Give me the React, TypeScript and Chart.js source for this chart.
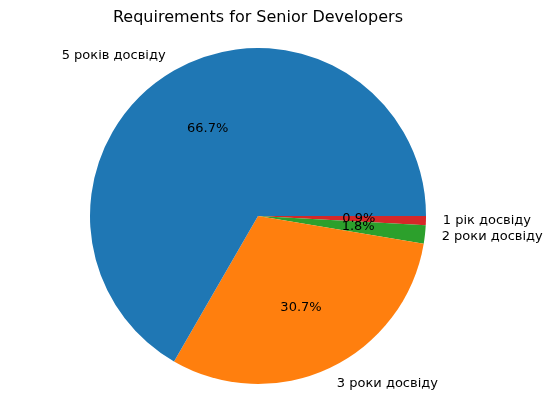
import React, { useEffect, useRef } from "react";
import { Chart, registerables } from "chart.js";
Chart.register(...registerables);

const labels = ["1 рік досвіду", "2 роки досвіду", "3 роки досвіду", "5 років досвіду"];
const counts = [1, 2, 35, 76];
const colors = ["#d62728", "#2ca02c", "#ff7f0e", "#1f77b4"];
const title = "Requirements for Senior Developers";

export default function App() {
  const ref = useRef<HTMLCanvasElement>(null);
  useEffect(() => {
    document.body.style.margin = "0";
    const total = counts.reduce((a, b) => a + b, 0);
    const plugin = {
      id: "mpl",
      afterDraw(chart: any) {
        const ctx = chart.ctx;
        const meta = chart.getDatasetMeta(0);
        ctx.save();
        ctx.fillStyle = "#000";
        ctx.font = "16px 'DejaVu Sans'";
        ctx.textAlign = "center";
        ctx.textBaseline = "middle";
        ctx.fillText(title, 258, 18);
        ctx.font = "13px 'DejaVu Sans'";
        meta.data.forEach((arc: any, i: number) => {
          const { x, y, startAngle, endAngle, outerRadius: r } = arc.getProps(["x", "y", "startAngle", "endAngle", "outerRadius"], true);
          const a = (startAngle + endAngle) / 2;
          const cx = Math.cos(a), cy = Math.sin(a);
          ctx.textAlign = cx >= 0 ? "left" : "right";
          ctx.fillText(labels[i], x + cx * r * 1.1, y + cy * r * 1.1);
          ctx.textAlign = "center";
          ctx.fillText(((counts[i] / total) * 100).toFixed(1) + "%", x + cx * r * 0.6, y + cy * r * 0.6);
        });
        ctx.restore();
      },
    };
    const chart = new Chart(ref.current!, {
      type: "pie",
      data: { labels, datasets: [{ data: counts, backgroundColor: colors, borderWidth: 0 }] },
      options: {
        animation: false,
        responsive: false,
        rotation: 90,
        layout: { padding: { top: 48, bottom: 27, left: 90, right: 133 } },
        plugins: { legend: { display: false }, tooltip: { enabled: false }, title: { display: false } },
      },
      plugins: [plugin],
    });
    return () => chart.destroy();
  }, []);
  return <canvas ref={ref} width={559} height={411} style={{ display: "block" }} />;
}
